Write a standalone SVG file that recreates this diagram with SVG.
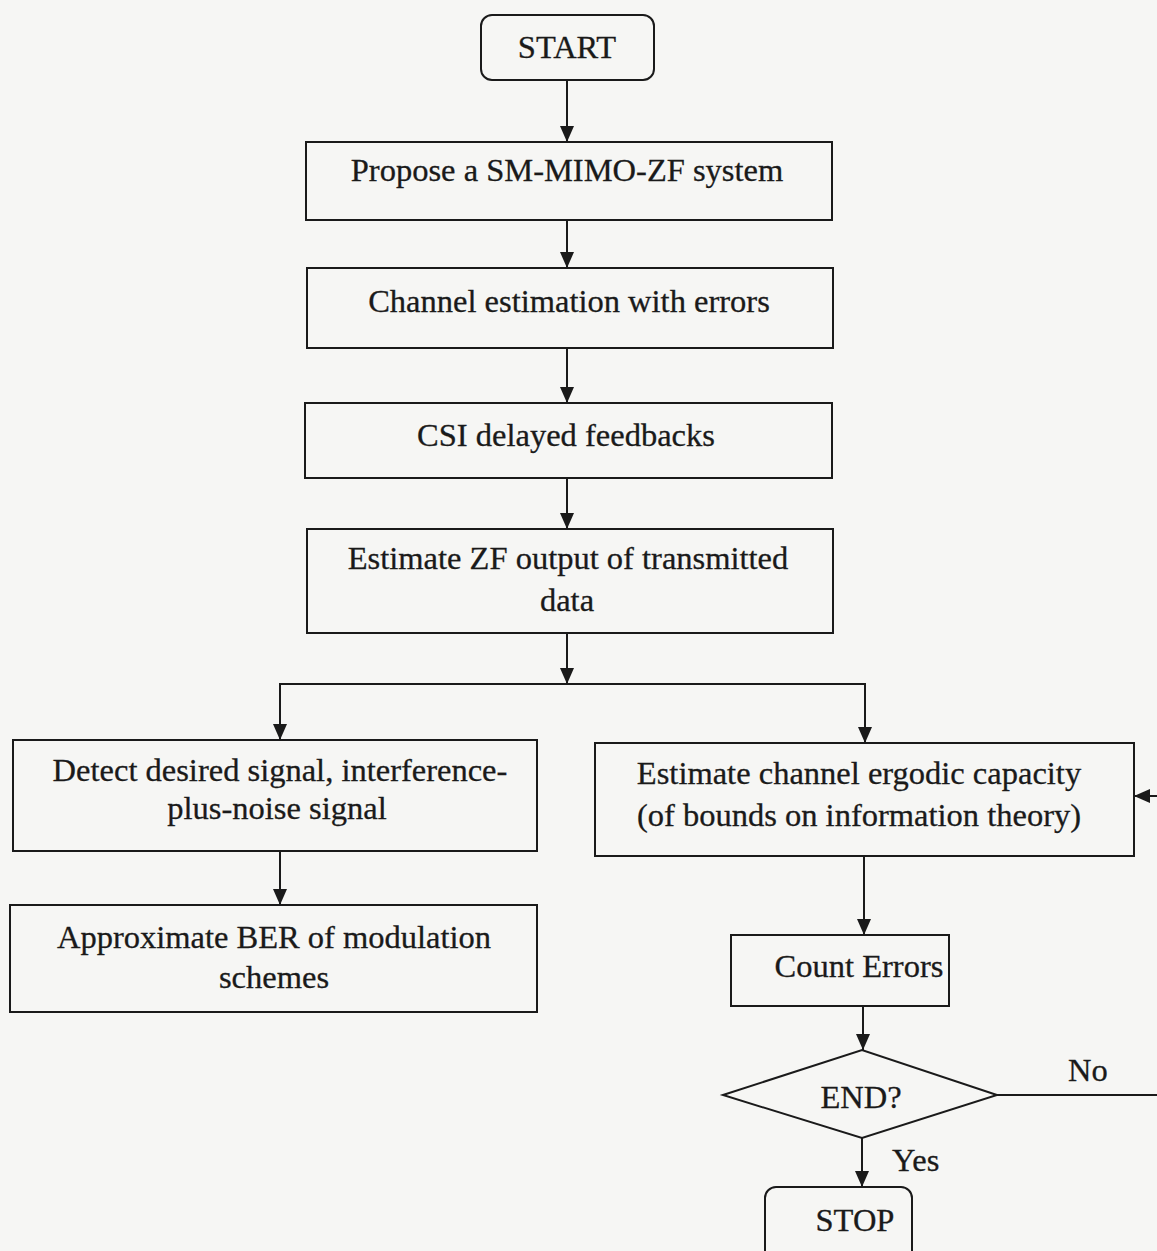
<svg xmlns="http://www.w3.org/2000/svg" width="1157" height="1251" viewBox="0 0 1157 1251">
<style>
.box{fill:none;stroke:#1a1a1a;stroke-width:2}
.ln{fill:none;stroke:#1a1a1a;stroke-width:2}
.t{font-family:"Liberation Serif","Times New Roman",serif;font-size:32.5px;fill:#1a1a1a;stroke:#1a1a1a;stroke-width:0.3;text-anchor:middle}
.tl{font-family:"Liberation Serif","Times New Roman",serif;font-size:32.5px;fill:#1a1a1a;stroke:#1a1a1a;stroke-width:0.3}
</style>
<defs>
<marker id="ah" viewBox="0 0 16 14" refX="16" refY="7" markerWidth="16" markerHeight="14" markerUnits="userSpaceOnUse" orient="auto">
<path d="M0,0 L16,7 L0,14 Z" fill="#1a1a1a"/>
</marker>
</defs>
<rect width="1157" height="1251" fill="#f6f6f4"/>
<g id="connectors">
<line class="ln" x1="567" y1="80" x2="567" y2="142" marker-end="url(#ah)"/>
<line class="ln" x1="567" y1="220" x2="567" y2="268" marker-end="url(#ah)"/>
<line class="ln" x1="567" y1="348" x2="567" y2="403" marker-end="url(#ah)"/>
<line class="ln" x1="567" y1="478" x2="567" y2="529" marker-end="url(#ah)"/>
<line class="ln" x1="567" y1="633" x2="567" y2="684" marker-end="url(#ah)"/>
<polyline class="ln" points="280,720 280,684 865,684 865,720"/>
<line class="ln" x1="280" y1="690" x2="280" y2="740" marker-end="url(#ah)"/>
<line class="ln" x1="865" y1="690" x2="865" y2="743" marker-end="url(#ah)"/>
<line class="ln" x1="280" y1="851" x2="280" y2="905" marker-end="url(#ah)"/>
<line class="ln" x1="864" y1="856" x2="864" y2="935" marker-end="url(#ah)"/>
<line class="ln" x1="863" y1="1006" x2="863" y2="1050" marker-end="url(#ah)"/>
<line class="ln" x1="997" y1="1095" x2="1157" y2="1095"/>
<line class="ln" x1="1157" y1="796" x2="1134" y2="796" marker-end="url(#ah)"/>
<line class="ln" x1="862" y1="1138" x2="862" y2="1187" marker-end="url(#ah)"/>
<text class="tl" x="1068" y="1081">No</text>
<text class="tl" x="892" y="1171">Yes</text>
</g>
<g id="start">
<rect class="box" x="481" y="15" width="173" height="65" rx="11"/>
<text class="t" x="567" y="58">START</text>
</g>
<g id="propose">
<rect class="box" x="306" y="142" width="526" height="78"/>
<text class="t" x="567" y="181">Propose a SM-MIMO-ZF system</text>
</g>
<g id="channel">
<rect class="box" x="307" y="268" width="526" height="80"/>
<text class="t" x="569" y="312">Channel estimation with errors</text>
</g>
<g id="csi">
<rect class="box" x="305" y="403" width="527" height="75"/>
<text class="t" x="566" y="446">CSI delayed feedbacks</text>
</g>
<g id="zf">
<rect class="box" x="307" y="529" width="526" height="104"/>
<text class="t" x="568" y="569">Estimate ZF output of transmitted</text>
<text class="t" x="567" y="611">data</text>
</g>
<g id="detect">
<rect class="box" x="13" y="740" width="524" height="111"/>
<text class="t" x="280" y="781">Detect desired signal, interference-</text>
<text class="t" x="277" y="819">plus-noise signal</text>
</g>
<g id="ber">
<rect class="box" x="10" y="905" width="527" height="107"/>
<text class="t" x="274" y="948">Approximate BER of modulation</text>
<text class="t" x="274" y="988">schemes</text>
</g>
<g id="capacity">
<rect class="box" x="595" y="743" width="539" height="113"/>
<text class="t" x="859" y="784">Estimate channel ergodic capacity</text>
<text class="t" x="859" y="826">(of bounds on information theory)</text>
</g>
<g id="count">
<rect class="box" x="731" y="935" width="218" height="71"/>
<text class="t" x="859" y="977">Count Errors</text>
</g>
<g id="end">
<polygon class="box" points="723,1095 862,1050 997,1095 862,1138"/>
<text class="t" x="861" y="1108">END?</text>
</g>
<g id="stop">
<rect class="box" x="765" y="1187" width="147" height="80" rx="11"/>
<text class="t" x="855" y="1231">STOP</text>
</g>
</svg>
